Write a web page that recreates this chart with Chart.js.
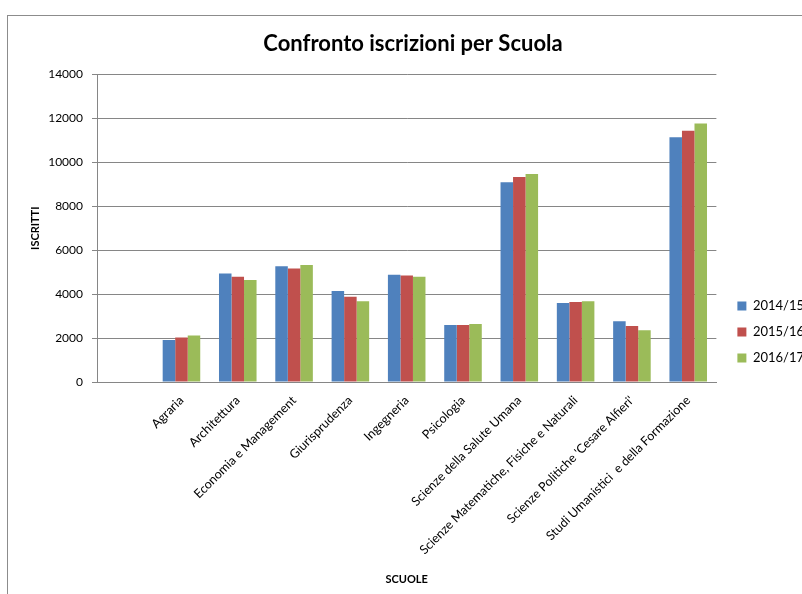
<!DOCTYPE html>
<html>
<head>
<meta charset="utf-8">
<script src="https://cdn.jsdelivr.net/npm/chart.js@4"></script>
<style>
  body { margin: 0; background: #fff; }
  #frame { position: absolute; left: 7px; top: 15px; width: 900px; height: 700px; border: 1px solid #8c8c8c; }
  #wrap { position: absolute; left: 0; top: 0; width: 802px; height: 594px; }
</style>
</head>
<body>
<div id="frame"></div>
<div id="wrap"><canvas id="myChart" width="802" height="594"></canvas></div>
<script>
'use strict';

// first slot is empty in the original sheet
let scuole = ['', 'Agraria', 'Architettura', 'Economia e Management', 'Giurisprudenza', 'Ingegneria',
  'Psicologia', 'Scienze della Salute Umana', 'Scienze Matematiche, Fisiche e Naturali',
  "Scienze Politiche 'Cesare Alfieri'", 'Studi Umanistici  e della Formazione'];

let anni = ['2014/15', '2015/16', '2016/17'];

let iscritti1415 = [null, 1910, 4940, 5270, 4140, 4880, 2590, 9090, 3590, 2770, 11140];
let iscritti1516 = [null, 2030, 4790, 5170, 3880, 4850, 2590, 9330, 3640, 2550, 11440];
let iscritti1617 = [null, 2120, 4640, 5320, 3680, 4790, 2640, 9470, 3680, 2360, 11770];

let yTicks = [0, 2000, 4000, 6000, 8000, 10000, 12000, 14000];

let colori = ['#4F81BD', '#C0504D', '#9BBB59'];
let valori = [iscritti1415, iscritti1516, iscritti1617];

let font = 'Lato, "Open Sans", sans-serif';

let datasets = [];
for (let i = 0; i < anni.length; i++) {
  datasets.push({
    label: anni[i],
    data: valori[i],
    backgroundColor: colori[i],
    borderWidth: 0,
    categoryPercentage: 0.667,
    barPercentage: 1
  });
}

// nudge the legend to where excel put it
let spostaLegenda = {
  id: 'spostaLegenda',
  afterLayout: function (chart) {
    let leg = chart.legend;
    leg.left += 8; leg.right += 8;
    leg.top += 35; leg.bottom += 35;
  }
};

let ctx = document.getElementById('myChart').getContext('2d');
let myChart = new Chart(ctx, {
  type: 'bar',
  data: { labels: scuole, datasets: datasets },
  plugins: [spostaLegenda],
  options: {
    responsive: false,
    animation: false,
    layout: { padding: { left: 20, right: -4, top: 0, bottom: 0 } },
    plugins: {
      title: {
        display: true,
        text: 'Confronto iscrizioni per Scuola',
        color: '#000',
        font: { family: font, size: 22, weight: 'bold' },
        padding: { top: 31, bottom: 17 }
      },
      legend: {
        position: 'right',
        labels: {
          color: '#000',
          font: { family: font, size: 13 },
          boxWidth: 9,
          boxHeight: 9,
          padding: 13
        }
      },
      tooltip: { enabled: false }
    },
    scales: {
      x: {
        grid: { display: false },
        border: { display: true, color: '#868686' },
        ticks: {
          color: '#000',
          font: { family: font, size: 12.5 },
          minRotation: 45,
          maxRotation: 45,
          autoSkip: false
        },
        title: {
          display: true,
          text: 'SCUOLE',
          color: '#000',
          font: { family: font, size: 11, weight: 'bold' },
          padding: { top: 4, bottom: 8 }
        },
        afterFit: function (scale) { scale.height = 212; }
      },
      y: {
        min: 0,
        max: 14000,
        afterBuildTicks: function (scale) {
          scale.ticks = yTicks.map(function (v) { return { value: v }; });
        },
        grid: { color: '#868686', tickLength: 5 },
        border: { display: true, color: '#868686' },
        ticks: {
          color: '#000',
          font: { family: font, size: 12 },
          padding: 9,
          callback: function (v) { return String(v); }
        },
        title: {
          display: true,
          text: 'ISCRITTI',
          color: '#000',
          font: { family: font, size: 11, weight: 'bold' },
          padding: { top: 9, bottom: 4 }
        },
        afterFit: function (scale) { scale.width = 77; }
      }
    }
  }
});
</script>
</body>
</html>
